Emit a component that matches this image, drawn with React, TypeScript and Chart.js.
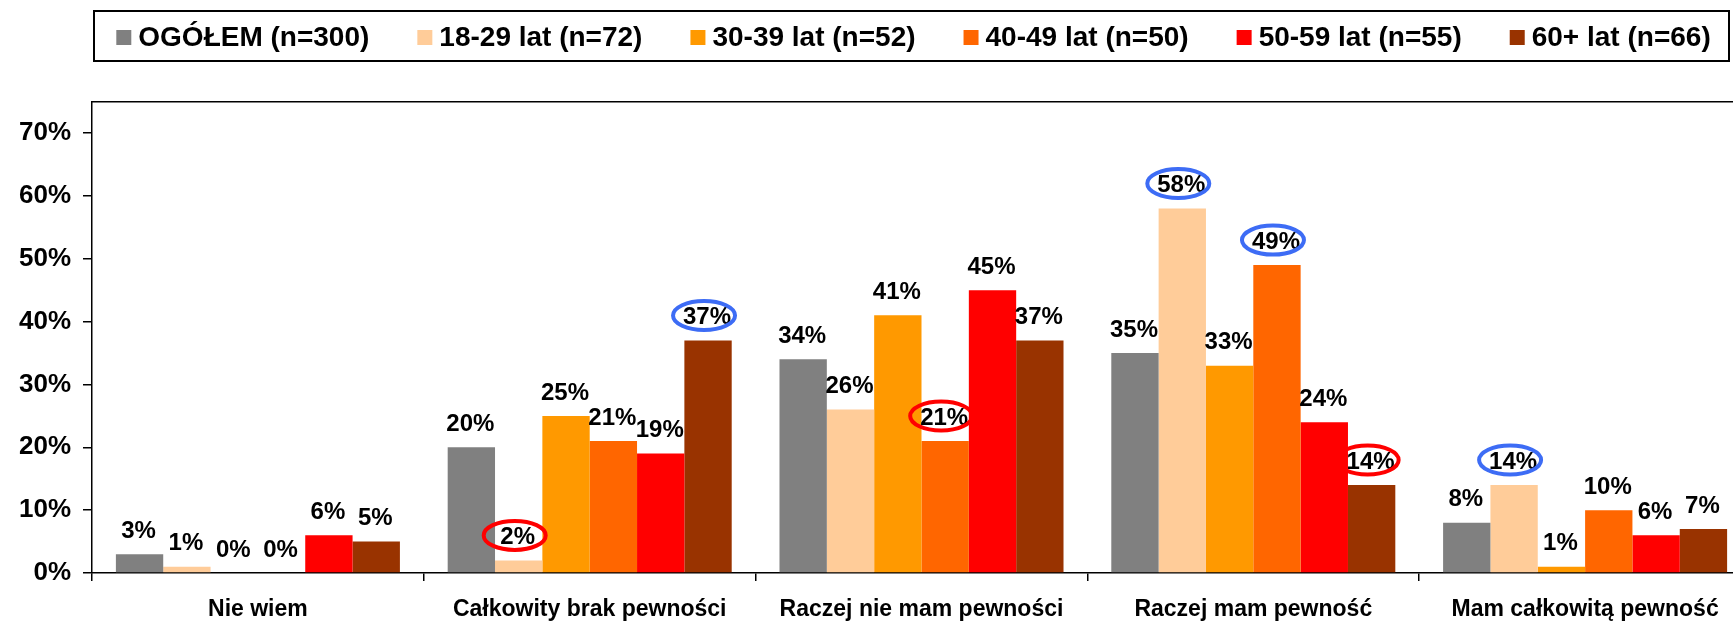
import React, { useEffect, useRef } from "react";
import { Chart, registerables } from "chart.js";

Chart.register(...registerables);

// ---- data ----
const categories = [
  "Nie wiem",
  "Całkowity brak pewności",
  "Raczej nie mam pewności",
  "Raczej mam pewność",
  "Mam całkowitą pewność",
];
const seriesNames = [
  "OGÓŁEM (n=300)",
  "18-29 lat (n=72)",
  "30-39 lat (n=52)",
  "40-49 lat (n=50)",
  "50-59 lat (n=55)",
  "60+ lat (n=66)",
];
const ogolem = [3, 20, 34, 35, 8];
const age18_29 = [1, 2, 26, 58, 14];
const age30_39 = [0, 25, 41, 33, 1];
const age40_49 = [0, 21, 21, 49, 10];
const age50_59 = [6, 19, 45, 24, 6];
const age60plus = [5, 37, 37, 14, 7];
const seriesValues = [ogolem, age18_29, age30_39, age40_49, age50_59, age60plus];
const seriesColors = ["#808080", "#FFCC99", "#FF9900", "#FF6600", "#FF0000", "#993300"];
const yTickValues = [0, 10, 20, 30, 40, 50, 60, 70];
// circled labels: [series index, category index]
const redCircled: [number, number][] = [[1, 1], [3, 2], [5, 3]];
const blueCircled: [number, number][] = [[5, 1], [1, 3], [3, 3], [1, 4]];

const FONT = "'Liberation Sans', Arial, sans-serif";

const legendPlugin = {
  id: "boxLegend",
  afterDraw(chart: any) {
    const ctx = chart.ctx as CanvasRenderingContext2D;
    ctx.save();
    const boxL = 94, boxR = 1729, boxT = 11, boxB = 61;
    ctx.fillStyle = "#fff";
    ctx.fillRect(boxL, boxT, boxR - boxL, boxB - boxT);
    ctx.strokeStyle = "#000";
    ctx.lineWidth = 2;
    ctx.strokeRect(boxL, boxT, boxR - boxL, boxB - boxT);
    ctx.font = `bold 28px ${FONT}`;
    const sw = 15, gapText = 7, gapItem = 48;
    const widths = seriesNames.map((n) => ctx.measureText(n).width);
    const total =
      widths.reduce((a, w) => a + sw + gapText + w, 0) + gapItem * (seriesNames.length - 1);
    let x = (boxL + boxR) / 2 - total / 2 + 2;
    const cy = 37.5;
    ctx.textBaseline = "middle";
    ctx.textAlign = "left";
    seriesNames.forEach((name, i) => {
      ctx.fillStyle = seriesColors[i];
      ctx.fillRect(x, cy - sw / 2, sw, sw);
      ctx.fillStyle = "#000";
      ctx.fillText(name, x + sw + gapText, cy + 1);
      x += sw + gapText + widths[i] + gapItem;
    });
    ctx.restore();
  },
};

const labelsPlugin = {
  id: "barLabels",
  afterDatasetsDraw(chart: any) {
    const ctx = chart.ctx as CanvasRenderingContext2D;
    const area = chart.chartArea;
    ctx.save();
    // top/right frame line of plot area
    ctx.strokeStyle = "#000";
    ctx.lineWidth = 1.5;
    ctx.beginPath();
    ctx.moveTo(area.left, area.top);
    ctx.lineTo(area.right, area.top);
    ctx.lineTo(area.right, area.bottom);
    ctx.stroke();

    ctx.font = `bold 24px ${FONT}`;
    ctx.textAlign = "center";
    ctx.textBaseline = "middle";
    ctx.fillStyle = "#000";
    chart.data.datasets.forEach((ds: any, i: number) => {
      const meta = chart.getDatasetMeta(i);
      meta.data.forEach((bar: any, j: number) => {
        ctx.fillText(`${ds.data[j]}%`, bar.x - 1, bar.y - 23);
      });
    });
    const ring = (list: [number, number][], color: string) => {
      ctx.strokeStyle = color;
      ctx.lineWidth = 4;
      list.forEach(([s, c]) => {
        const bar = chart.getDatasetMeta(s).data[c];
        ctx.beginPath();
        ctx.ellipse(bar.x - 4, bar.y - 25, 31, 14.5, 0, 0, Math.PI * 2);
        ctx.stroke();
      });
    };
    ring(redCircled, "#FF0000");
    ring(blueCircled, "#3D6CF5");
    ctx.restore();
  },
};

export default function App() {
  const ref = useRef<HTMLCanvasElement | null>(null);
  useEffect(() => {
    if (!ref.current) return;
    const chart = new Chart(ref.current, {
      type: "bar",
      data: {
        labels: categories,
        datasets: seriesNames.map((name, i) => ({
          label: name,
          data: seriesValues[i],
          backgroundColor: seriesColors[i],
          borderWidth: 0,
          barPercentage: 1,
          categoryPercentage: 0.856,
        })),
      },
      options: {
        responsive: false,
        animation: false,
        devicePixelRatio: 1,
        layout: { padding: { top: 101.7, left: 0, right: 9, bottom: 0 } },
        plugins: { legend: { display: false }, tooltip: { enabled: false } },
        scales: {
          x: {
            grid: {
              display: true,
              drawOnChartArea: false,
              drawTicks: true,
              tickLength: 8,
              color: "#000",
              lineWidth: 1.5,
              offset: true,
            },
            border: { display: true, color: "#000", width: 1.5 },
            ticks: {
              color: "#000",
              font: { family: FONT, size: 23, weight: "bold" },
              padding: 15,
              maxRotation: 0,
              autoSkip: false,
            },
            afterFit: (s: any) => {
              s.height = 48;
            },
          },
          y: {
            min: 0,
            max: 75,
            grid: {
              display: true,
              drawOnChartArea: false,
              drawTicks: true,
              tickLength: 9,
              color: "#000",
              lineWidth: 1.5,
            },
            border: { display: true, color: "#000", width: 1.5 },
            ticks: {
              color: "#000",
              font: { family: FONT, size: 26, weight: "bold" },
              padding: 12,
              callback: (v: any) => `${v}%`,
            },
            afterBuildTicks: (s: any) => {
              s.ticks = yTickValues.map((v) => ({ value: v }));
            },
            afterFit: (s: any) => {
              s.width = 92;
            },
          },
        },
      },
      plugins: [labelsPlugin, legendPlugin],
    });
    return () => chart.destroy();
  }, []);
  return (
    <div
      style={{
        position: "fixed",
        left: 0,
        top: 0,
        width: 1733,
        height: 621,
        overflow: "hidden",
        background: "#fff",
      }}
    >
      <canvas ref={ref} width={1760} height={621} style={{ display: "block" }} />
    </div>
  );
}
